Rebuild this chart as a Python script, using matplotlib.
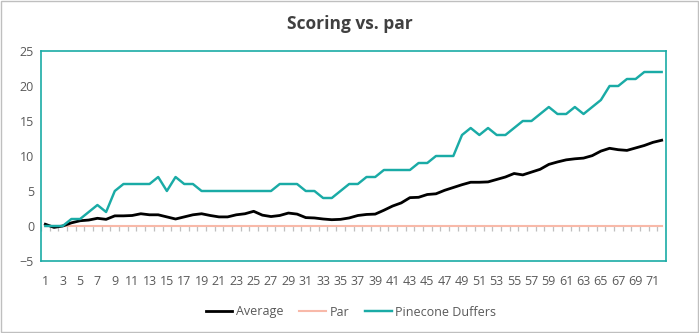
import numpy as np
import matplotlib
matplotlib.use("Agg")
import matplotlib.pyplot as plt
from matplotlib.patches import Rectangle

plt.rcParams['font.family'] = ['Open Sans', 'DejaVu Sans']

# rounds 1..72
rounds = np.arange(1, 73)

average = [0.25, -0.2, 0.0, 0.45, 0.75, 0.85, 1.1, 0.95, 1.45, 1.45,
           1.5, 1.75, 1.6, 1.6, 1.3, 1.0, 1.3, 1.6, 1.75, 1.5,
           1.3, 1.3, 1.6, 1.75, 2.1, 1.55, 1.35, 1.5, 1.85, 1.7,
           1.2, 1.15, 1.0, 0.9, 0.95, 1.15, 1.5, 1.65, 1.7, 2.25,
           2.85, 3.3, 4.05, 4.1, 4.5, 4.6, 5.1, 5.5, 5.9, 6.25,
           6.25, 6.3, 6.65, 7.0, 7.5, 7.3, 7.7, 8.1, 8.8, 9.15,
           9.45, 9.6, 9.7, 10.05, 10.7, 11.1, 10.9, 10.8, 11.15, 11.5,
           11.95, 12.25]

par = [0] * 72

pinecone = [0, 0, 0, 1, 1, 2, 3, 2, 5, 6,
            6, 6, 6, 7, 5, 7, 6, 6, 5, 5,
            5, 5, 5, 5, 5, 5, 5, 6, 6, 6,
            5, 5, 4, 4, 5, 6, 6, 7, 7, 8,
            8, 8, 8, 9, 9, 10, 10, 10, 13, 14,
            13, 14, 13, 13, 14, 15, 15, 16, 17, 16,
            16, 17, 16, 17, 18, 20, 20, 21, 21, 22,
            22, 22]

teal = '#1AABA6'
salmon = '#F8B9A9'
txt = '#595959'

fig = plt.figure(figsize=(6.99, 3.33), dpi=100)
ax = fig.add_axes([41/699, 72/333, 625/699, 210/333])

# category tick marks hanging below the zero axis
ax.vlines(np.arange(0.5, 73), -0.75, 0, color='#BFBFBF', lw=0.9, zorder=1)

ax.plot(rounds, par, color=salmon, lw=1.5, label='Par', zorder=2)
ax.plot(rounds, average, color='black', lw=2.0, label='Average', zorder=3)
ax.plot(rounds, pinecone, color=teal, lw=1.75, label='Pinecone Duffers', zorder=3)

ax.set_xlim(0.5, 72.5)
ax.set_ylim(-5, 25)
ax.set_yticks(range(-5, 26, 5))
ax.set_xticks(rounds[::2])
ax.set_xticklabels([str(r) for r in rounds[::2]])
ax.tick_params(axis='both', length=0, colors=txt, labelsize=9)
ax.tick_params(axis='x', pad=10)
ax.tick_params(axis='y', pad=5)
for s in ax.spines.values():
    s.set_color(teal)
    s.set_linewidth(1.2)

fig.text(0.5, 1 - 24/333, 'Scoring vs. par', ha='center', va='center',
         fontsize=12.5, fontweight='bold', color='#404040')

handles, labels = ax.get_legend_handles_labels()
order = [1, 0, 2]
fig.legend([handles[i] for i in order], [labels[i] for i in order],
           loc='center', bbox_to_anchor=(351/699, 1 - 312/333), ncol=3,
           frameon=False, fontsize=9, labelcolor=txt,
           handlelength=2.1, handletextpad=0.3, columnspacing=1.3)

fig.patches.append(Rectangle((0.5/699, 1/333), 697/699, 331/333, transform=fig.transFigure,
                             fill=False, edgecolor='#BFBFBF', lw=1))

fig.savefig('out.png', dpi=100)
